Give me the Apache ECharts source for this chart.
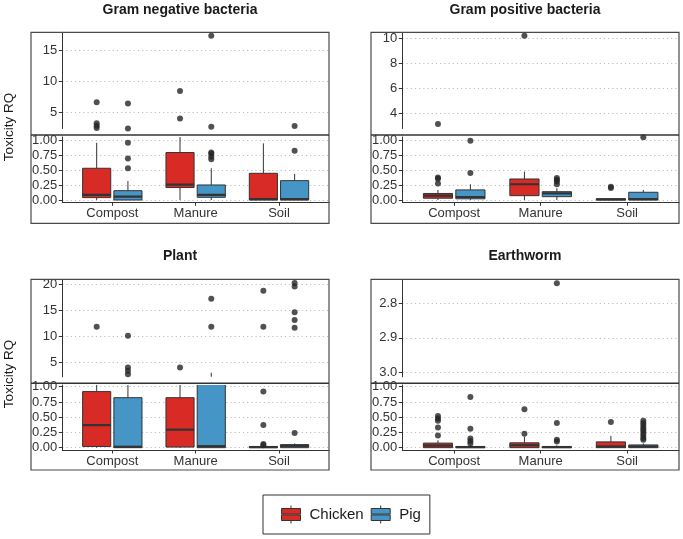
<!DOCTYPE html>
<html><head><meta charset="utf-8">
<script src="https://cdn.jsdelivr.net/npm/echarts@6/dist/echarts.min.js"></script>
<style>html,body{margin:0;padding:0;background:#fff}#c{width:683px;height:539px}</style>
</head><body><div id="c"></div>
<script>
// ---------- data ----------
const categories = ['Compost', 'Manure', 'Soil'];
const panelTitles = ['Gram negative bacteria', 'Gram positive bacteria', 'Plant', 'Earthworm'];
const seriesNames = ['Chicken', 'Pig'];
const yAxisTitle = 'Toxicity RQ';

// box stats per category: [lower whisker, Q1, median, Q3, upper whisker]
const gnChickenBox = [[0, 0.04, 0.085, 0.535, 0.965], [0, 0.21, 0.26, 0.80, 1.12], [0, 0, 0.015, 0.45, 0.955]];
const gnPigBox     = [[0, 0, 0.056, 0.157, 0.32], [0, 0.045, 0.085, 0.253, 0.534], [0, 0, 0.015, 0.326, 0.44]];
const gnChickenOut = [[6.6, 3.25, 2.85, 2.5], [8.4, 4.0], []];
const gnPigOut     = [[6.4, 2.42, 0.966, 0.70, 0.534], [17.3, 2.69, 0.80, 0.78, 0.73, 0.685], [2.8, 0.83]];

const gpChickenBox = [[0, 0.03, 0.073, 0.11, 0.17], [0, 0.073, 0.265, 0.354, 0.477], [0, 0, 0.01, 0.02, 0.02]];
const gpPigBox     = [[0, 0.02, 0.05, 0.17, 0.265], [0, 0.056, 0.11, 0.14, 0.197], [0, 0, 0.015, 0.13, 0.17]];
const gpChickenOut = [[3.14, 0.38, 0.36, 0.28], [10.2], [0.225, 0.20]];
const gpPigOut     = [[1.0, 0.455], [0.37, 0.34, 0.31, 0.265], [1.058]];

const plChickenBox = [[0, 0.02, 0.37, 0.92, 1.5], [0, 0.01, 0.295, 0.82, 1.6], [0, 0, 0.01, 0.02, 0.03]];
const plPigBox     = [[0, 0, 0.015, 0.82, 1.8], [0, 0, 0.025, 1.3, 3.0], [0, 0, 0.03, 0.05, 0.07]];
const plChickenOut = [[11.8], [4.0], [18.7, 11.8, 0.92, 0.37, 0.06, 0.04]];
const plPigOut     = [[10.1, 4.0, 3.4, 2.7], [17.15, 11.8], [20.2, 19.5, 14.6, 13.1, 11.6, 0.24]];

const ewChickenBox = [[0, 0, 0.035, 0.075, 0.12], [0, 0, 0.04, 0.08, 0.18], [0, 0, 0.02, 0.095, 0.195]];
const ewPigBox     = [[0, 0, 0.01, 0.02, 0.04], [0, 0, 0.01, 0.02, 0.04], [0, 0, 0.02, 0.045, 0.07]];
const ewChickenOut = [[0.52, 0.48, 0.44, 0.33, 0.20], [0.63, 0.23], [0.42]];
const ewPigOut     = [[0.83, 0.31, 0.15, 0.11, 0.07], [2.742, 0.405, 0.13, 0.10], [0.44, 0.40, 0.36, 0.32, 0.28, 0.24, 0.20, 0.16, 0.13]];

// tick labels
const gnUpperTicks = [5, 10, 15];
const gpUpperTicks = [4, 6, 8, 10];
const plUpperTicks = [5, 10, 15, 20];
const ewUpperTicks = [2.8, 2.9, 3.0];
const lowerTicks = [0, 0.25, 0.5, 0.75, 1];

// ---------- layout / style ----------
const RED = '#D92B25', BLUE = '#4595C6', INK = '#333333';
const FONT = '"Liberation Sans", Arial, sans-serif';
const colors = [RED, BLUE];
const offsets = [-0.1875, 0.1875];
const HALF_W = 0.16875;

const boxSets = [[gnChickenBox, gnPigBox], [gpChickenBox, gpPigBox], [plChickenBox, plPigBox], [ewChickenBox, ewPigBox]];
const outSets = [[gnChickenOut, gnPigOut], [gpChickenOut, gpPigOut], [plChickenOut, plPigOut], [ewChickenOut, ewPigOut]];
const upperTicks = [gnUpperTicks, gpUpperTicks, plUpperTicks, ewUpperTicks];

const layouts = [
  {frame: [31, 32.3, 329, 223.3], div: 135, L: 62.3, R: 329, up: [32.3, 128.5], low: [137, 202.3], upRange: [2.4, 17.84], lowRange: [-0.039, 1.062], inv: false, dec: 0, title: [180, 10]},
  {frame: [371, 32.3, 679, 223.3], div: 135, L: 402.3, R: 679, up: [32.3, 128.5], low: [137, 202.3], upRange: [2.78, 10.48], lowRange: [-0.039, 1.062], inv: false, dec: 0, title: [525, 10]},
  {frame: [31, 279.3, 329, 470], div: 383.3, L: 62.3, R: 329, up: [279.5, 376.8], low: [385, 450], upRange: [2.22, 20.86], lowRange: [-0.038, 1.028], inv: false, dec: 0, title: [180, 256.5]},
  {frame: [371, 279.3, 679, 470], div: 383.3, L: 402.3, R: 679, up: [279.5, 376.8], low: [385, 450], upRange: [2.731, 3.013], lowRange: [-0.038, 1.028], inv: true, dec: 1, title: [525, 256.5]}
];

function boxRenderer(offset, color) {
  return function (params, api) {
    const x = api.value(0) + offset;
    const lo = api.value(1), q1 = api.value(2), med = api.value(3), q3 = api.value(4), hi = api.value(5);
    const pA = api.coord([x - HALF_W, q3]);
    const pB = api.coord([x + HALF_W, q1]);
    const cx = api.coord([x, q1])[0];
    const yLo = api.coord([x, lo])[1], yHi = api.coord([x, hi])[1], yMed = api.coord([x, med])[1];
    const top = Math.min(pA[1], pB[1]), bot = Math.max(pA[1], pB[1]);
    return {
      type: 'group',
      children: [
        {type: 'line', shape: {x1: cx, y1: pA[1], x2: cx, y2: yHi}, style: {stroke: INK, lineWidth: 1}},
        {type: 'line', shape: {x1: cx, y1: pB[1], x2: cx, y2: yLo}, style: {stroke: INK, lineWidth: 1}},
        {type: 'rect', shape: {x: pA[0], y: top, width: pB[0] - pA[0], height: Math.max(bot - top, 0.5)}, style: {fill: color, stroke: INK, lineWidth: 1}},
        {type: 'line', shape: {x1: pA[0], y1: yMed, x2: pB[0], y2: yMed}, style: {stroke: INK, lineWidth: 2.2}}
      ]
    };
  };
}

const grids = [], xAxes = [], yAxes = [], series = [], graphics = [];
const labelStyle = {color: INK, fontSize: 13, fontFamily: FONT};

layouts.forEach((lay, p) => {
  [['up', lay.up, lay.upRange, upperTicks[p], lay.inv, lay.dec], ['low', lay.low, lay.lowRange, lowerTicks, false, 2]].forEach(([kind, span, range, ticks, inv, dec]) => {
    const gi = grids.length;
    grids.push({left: lay.L, top: span[0], width: lay.R - lay.L, height: span[1] - span[0], containLabel: false});
    if (kind === 'up') {
      xAxes.push({gridIndex: gi, type: 'value', min: 0.4, max: 3.6, show: false});
    } else {
      xAxes.push({
        gridIndex: gi, type: 'value', min: 0.4, max: 3.6,
        axisLine: {show: true, onZero: false, lineStyle: {color: INK, width: 1}},
        axisTick: {show: true, customValues: [1, 2, 3], length: 3.5, lineStyle: {color: INK}},
        axisLabel: Object.assign({customValues: [1, 2, 3], margin: 5, formatter: v => categories[Math.round(v) - 1]}, labelStyle),
        splitLine: {show: false}
      });
    }
    yAxes.push({
      gridIndex: gi, type: 'value', min: range[0], max: range[1], inverse: inv,
      axisLine: {show: true, onZero: false, lineStyle: {color: INK, width: 1}},
      axisTick: {show: true, customValues: ticks, length: 3.5, lineStyle: {color: INK}},
      axisLabel: Object.assign({customValues: ticks, margin: 5, formatter: v => Number(v).toFixed(dec)}, labelStyle),
      splitLine: {show: true, lineStyle: {type: [1.2, 3], color: '#bdbdbd', width: 1}}
    });
    [0, 1].forEach(s => {
      series.push({
        name: seriesNames[s], type: 'custom', xAxisIndex: gi, yAxisIndex: gi, clip: true, silent: true,
        itemStyle: {color: colors[s], borderColor: INK, borderWidth: 1},
        dimensions: ['x', 'lo', 'q1', 'med', 'q3', 'hi'],
        encode: {x: 0, y: [1, 2, 3, 4, 5]},
        renderItem: boxRenderer(offsets[s], colors[s]),
        data: boxSets[p][s].map((b, i) => [i + 1].concat(b))
      });
      const pts = [];
      outSets[p][s].forEach((vals, i) => vals.forEach(v => pts.push([i + 1 + offsets[s], v])));
      series.push({
        name: seriesNames[s] + ' outliers', type: 'scatter', xAxisIndex: gi, yAxisIndex: gi, clip: true, silent: true,
        symbol: 'circle', symbolSize: 6, itemStyle: {color: '#262626'}, data: pts, z: 3
      });
    });
  });
  const f = lay.frame;
  graphics.push({type: 'rect', shape: {x: f[0], y: f[1], width: f[2] - f[0], height: f[3] - f[1]}, style: {fill: null, stroke: '#4a4a4a', lineWidth: 1.2}, z: 10});
  graphics.push({type: 'line', shape: {x1: f[0], y1: lay.div, x2: f[2], y2: lay.div}, style: {stroke: '#333', lineWidth: 1.4}, z: 10});
  graphics.push({type: 'text', x: lay.title[0], y: lay.title[1], style: {text: panelTitles[p], align: 'center', verticalAlign: 'middle', font: 'bold 14px ' + FONT, fill: '#1a1a1a'}, z: 10});
});

graphics.push({type: 'text', x: 9, y: 127, rotation: Math.PI / 2, style: {text: yAxisTitle, align: 'center', verticalAlign: 'middle', font: '13.5px ' + FONT, fill: '#1a1a1a'}, z: 10});
graphics.push({type: 'text', x: 9, y: 374, rotation: Math.PI / 2, style: {text: yAxisTitle, align: 'center', verticalAlign: 'middle', font: '13.5px ' + FONT, fill: '#1a1a1a'}, z: 10});

const chart = echarts.init(document.getElementById('c'), null, {renderer: 'canvas'});
chart.setOption({
  animation: false,
  backgroundColor: '#ffffff',
  grid: grids, xAxis: xAxes, yAxis: yAxes, series: series,
  graphic: graphics,
  legend: {
    data: seriesNames.map((n, s) => ({name: n, itemStyle: {color: colors[s], borderColor: INK, borderWidth: 1}})),
    left: 263, top: 495, orient: 'horizontal', selectedMode: false,
    icon: 'path://M9.5,0V3 M0,3H19V8.6H0Z M0,9.4H19V15H0Z M9.5,15V18',
    itemWidth: 19, itemHeight: 18, itemGap: 7,
    padding: [10, 9, 10, 18],
    borderColor: '#333', borderWidth: 1,
    textStyle: {fontSize: 15, color: '#1a1a1a', fontFamily: FONT, padding: [0, 0, 0, 4]}
  }
});
</script>
</body></html>
